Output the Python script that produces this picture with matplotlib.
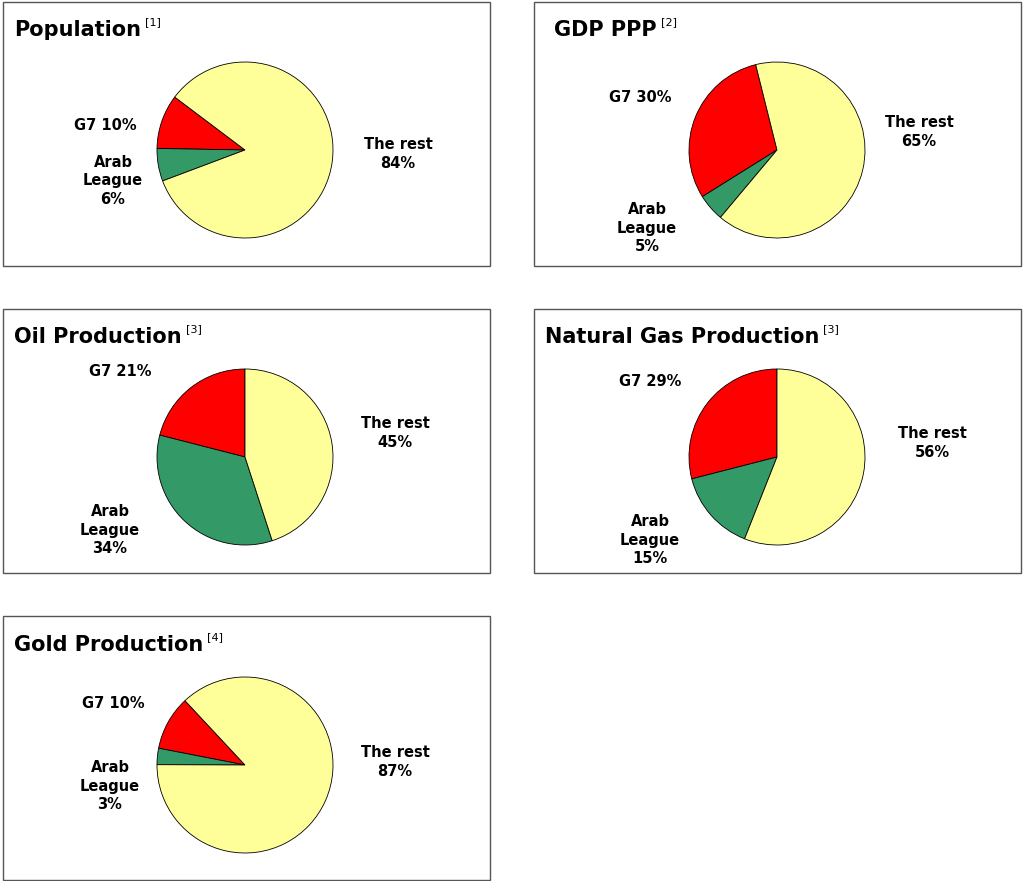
import matplotlib.pyplot as plt
from matplotlib.patches import Rectangle

W, H = 1024, 881

# Data
titles = ["Population", "GDP PPP", "Oil Production", "Natural Gas Production", "Gold Production"]
refs = ["[1]", "[2]", "[3]", "[3]", "[4]"]
g7 = [10, 30, 21, 29, 10]
arab = [6, 5, 34, 15, 3]
rest = [84, 65, 45, 56, 87]
start_angles = [143, 104, 90, 90, 133]

colors = ['#ff0000', '#339966', '#ffff99']

# Layout in pixels
panels = [(3, 2), (534, 2), (3, 309), (534, 309), (3, 616)]
panel_w, panel_h = 487, 264
centers = [(245, 150), (777, 150), (245, 457), (777, 457), (245, 765)]
radius = 88
g7_pos = [(105, 125), (640, 98), (120, 371), (650, 381), (113, 704)]
arab_pos = [(113, 181), (647, 228), (110, 530), (650, 540), (110, 786)]
rest_pos = [(398, 154), (919, 132), (395, 433), (932, 443), (395, 762)]
title_pos = [(14, 30), (554, 30), (14, 337), (545, 337), (14, 645)]

fig = plt.figure(figsize=(W / 100, H / 100), dpi=100)


def fx(x):
    return x / W


def fy(y):
    return 1 - y / H


for i in range(len(titles)):
    px, py = panels[i]
    fig.patches.append(Rectangle((fx(px), fy(py + panel_h)), panel_w / W, panel_h / H,
                                 transform=fig.transFigure, fill=False,
                                 edgecolor='#555555', linewidth=1))
    cx, cy = centers[i]
    ax = fig.add_axes([fx(cx - radius), fy(cy + radius), 2 * radius / W, 2 * radius / H])
    ax.pie([g7[i], arab[i], rest[i]], colors=colors, startangle=start_angles[i],
           counterclock=True, wedgeprops=dict(edgecolor='black', linewidth=0.6))
    ax.set_aspect('auto')
    ax.set_xlim(-1.0, 1.0)
    ax.set_ylim(-1.0, 1.0)

    tx, ty = title_pos[i]
    t = fig.text(fx(tx), fy(ty), titles[i], fontsize=15, fontweight='bold',
                 ha='left', va='center')
    fig.canvas.draw()
    bb = t.get_window_extent()
    fig.text(bb.x1 / W + 4 / W, fy(ty - 8), refs[i], fontsize=8, ha='left', va='center')

    kw = dict(fontsize=10.5, fontweight='bold', ha='center', va='center', linespacing=1.3)
    fig.text(fx(g7_pos[i][0]), fy(g7_pos[i][1]), f"G7 {g7[i]}%", **kw)
    fig.text(fx(arab_pos[i][0]), fy(arab_pos[i][1]), f"Arab\nLeague\n{arab[i]}%", **kw)
    fig.text(fx(rest_pos[i][0]), fy(rest_pos[i][1]), f"The rest\n{rest[i]}%", **kw)

fig.savefig("out.png", dpi=100)
